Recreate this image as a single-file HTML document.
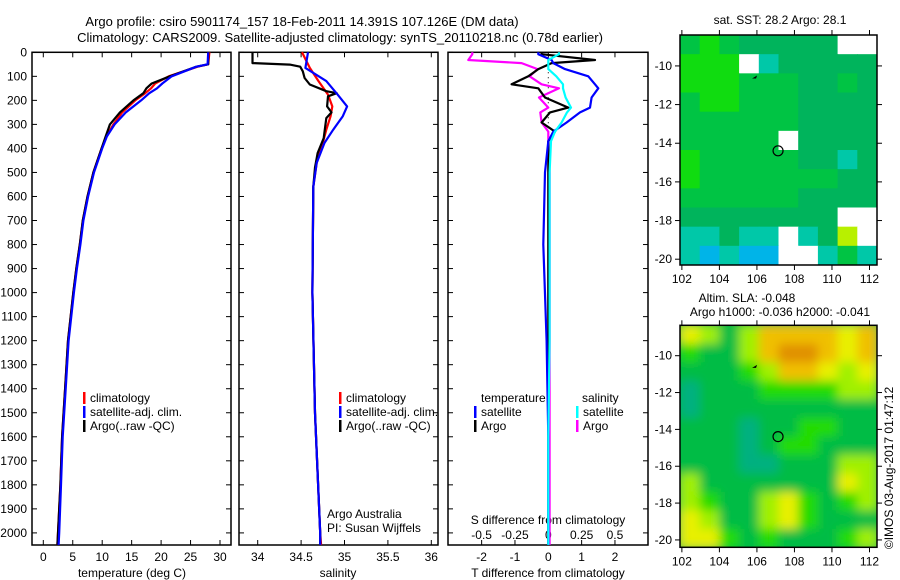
<!DOCTYPE html>
<html><head><meta charset="utf-8">
<style>
html,body{margin:0;padding:0;background:#fff;}
svg{display:block;font-family:"Liberation Sans",sans-serif;}
text{font-size:12px;fill:#000;}
</style></head>
<body>
<svg id="c" width="900" height="580" viewBox="0 0 900 580" xmlns="http://www.w3.org/2000/svg">
<text x="302" y="26" text-anchor="middle" style="font-size:13px">Argo profile: csiro 5901174_157 18-Feb-2011 14.391S 107.126E (DM data)</text>
<text x="340" y="42" text-anchor="middle" style="font-size:13px">Climatology: CARS2009. Satellite-adjusted climatology: synTS_20110218.nc (0.78d earlier)</text>
<text x="780" y="24" text-anchor="middle">sat. SST: 28.2 Argo: 28.1</text>
<text x="747" y="302" text-anchor="middle">Altim. SLA: -0.048</text>
<text x="780" y="316" text-anchor="middle">Argo h1000: -0.036 h2000: -0.041</text>
<text transform="translate(893,468) rotate(-90)" text-anchor="middle">©IMOS 03-Aug-2017 01:47:12</text>
</svg>
<script>
// ---- data ----
const tDepth = [0,50,60,100,130,150,170,200,250,300,350,400,500,600,700,800,900,1000,1200,1400,1600,1800,2000,2050];
const tArgo  = [28.0,28.0,26.0,21.5,18.4,17.5,17.0,15.3,13.0,11.3,10.6,9.9,8.5,7.5,6.7,6.2,5.6,5.1,4.2,3.7,3.2,2.9,2.5,2.4];
const tClim  = [28.2,28.0,26.2,21.3,19.0,18.3,17.3,15.6,13.4,11.9,10.7,9.9,8.5,7.5,6.7,6.2,5.6,5.1,4.2,3.7,3.2,2.9,2.5,2.4];
const tSat   = [28.0,27.9,26.0,21.8,20.2,19.3,18.0,16.6,14.0,12.1,10.8,10.0,8.6,7.6,6.8,6.3,5.7,5.2,4.3,3.8,3.3,3.0,2.7,2.6];

const sDepthArgo = [0,45,51,60,79,107,134,162,170,183,225,250,274,357,420,480,560,1000,1500,2000,2050];
const sArgo      = [33.94,33.94,34.37,34.49,34.52,34.54,34.60,34.79,34.91,34.81,34.80,34.85,34.79,34.76,34.69,34.66,34.64,34.63,34.66,34.72,34.72];
const sDepth = [0,65,120,176,225,266,322,377,460,560,1000,1500,2000,2050];
const sClim  = [34.51,34.60,34.70,34.81,34.86,34.84,34.79,34.75,34.68,34.64,34.63,34.66,34.72,34.73];
const sSat   = [34.58,34.55,34.79,34.92,35.03,34.98,34.87,34.77,34.68,34.64,34.63,34.66,34.72,34.72];

const dDepth   = [0,8,32,45,70,100,133,150,188,230,250,292,330,370,500,800,1200,1600,2050];
const dTArgo   = [-0.2,-0.2,1.4,0.1,-0.3,-0.6,-1.1,-0.3,-0.1,0.6,0.05,-0.2,0.2,0.0,0.0,0.0,0.0,0.0,0.0];
const dTSat    = [-0.3,-0.3,0.1,0.15,0.5,1.2,1.4,1.5,1.3,1.25,0.95,0.55,0.15,0.0,-0.1,-0.15,-0.05,0.0,0.0];
const dSSat    = [0.08,0.08,0.0,0.0,0.0,0.06,0.11,0.11,0.13,0.17,0.14,0.10,0.05,0.02,0.01,0.01,0.01,0.0,0.0];
const dSArgo   = [-0.57,-0.57,-0.6,-0.2,-0.08,-0.14,-0.05,0.08,-0.07,0.0,-0.06,-0.05,0.0,0.0,0.01,0.01,0.01,0.01,0.01];

const tTicks = [0,5,10,15,20,25,30];
const sTicks = [34,34.5,35,35.5,36];
const dTTicks = [-2,-1,0,1,2];
const dSTicks = ['-0.5','-0.25','0','0.25','0.5'];
const depthTicks = [0,100,200,300,400,500,600,700,800,900,1000,1100,1200,1300,1400,1500,1600,1700,1800,1900,2000];
const lonTicks = [102,104,106,108,110,112];
const latTicks = [-10,-12,-14,-16,-18,-20];

const sstPal = ['#00b4e8','#00c8a8','#00b45c','#00c444','#10dc10','#b8f000'];
const sstGrid = [
[3,4,3,2,2,2,2,2,-1,-1],
[4,4,4,-1,1,2,2,2,2,2],
[4,4,4,3,3,3,2,2,3,2],
[3,4,4,3,3,3,2,2,2,2],
[3,3,3,3,3,3,2,2,2,2],
[3,3,3,3,3,-1,2,2,2,2],
[4,3,3,3,3,3,2,2,1,2],
[4,3,3,3,3,3,3,3,2,2],
[3,3,3,3,3,3,2,2,2,2],
[2,2,2,2,2,2,2,2,-1,-1],
[1,1,2,1,1,-1,1,2,5,-1],
[1,0,1,0,0,-1,-1,1,3,1]];
const slaPal = ['#00b080','#00bc44','#20dc00','#a0f000','#e8f000','#f0c000','#e09000'];
const slaGrid = [
[4,3,1,3,5,5,5,5,4,5],
[2,1,1,3,5,6,6,5,4,5],
[1,1,1,2,3,5,5,4,3,4],
[0,1,1,1,2,2,2,2,3,3],
[0,1,1,1,1,1,1,1,1,1],
[1,1,1,0,1,1,2,2,1,1],
[1,1,1,0,1,2,2,1,1,1],
[1,1,1,0,0,1,1,1,3,3],
[3,1,1,1,1,1,1,1,4,3],
[3,2,1,1,3,4,2,1,2,3],
[4,3,1,1,3,4,2,1,1,1],
[4,4,2,1,2,1,1,1,2,3]];
const floatLon = 107.126, floatLat = -14.391;

// ---- helpers ----
const svg = document.getElementById('c');
const NS = 'http://www.w3.org/2000/svg';
function mk(tag, attrs, parent){const e=document.createElementNS(NS,tag);for(const k in attrs)e.setAttribute(k,attrs[k]);(parent||svg).appendChild(e);return e;}
function txt(x,y,s,anchor,parent){const t=mk('text',{x:x,y:y,'text-anchor':anchor||'start'},parent);t.textContent=s;return t;}

const PT=52.3, PB=545;
const yD = d => PT + d*0.2403;
const xT = v => 43.3 + v*5.89;
const xS = v => 257.7 + (v-34)*86.8;
const xDT = v => 548.3 + v*33.33;
const xDS = v => 548.3 + v*133.3;

function line(xs, ds, fx, color, name, parent){
  const pts = xs.map((v,i)=>fx(v).toFixed(1)+','+yD(ds[i]).toFixed(1)).join(' ');
  const p = mk('polyline',{points:pts,fill:'none',stroke:color,'stroke-width':2.2,'stroke-linejoin':'round'},parent);
  
  
}
function frame(x0,x1,name){
  const g = mk('g',{});
  
  
  mk('rect',{x:x0,y:PT,width:x1-x0,height:PB-PT,fill:'none',stroke:'#000','stroke-width':1.5},g);
  depthTicks.forEach(d=>{
    mk('line',{x1:x0,x2:x0+5,y1:yD(d),y2:yD(d),stroke:'#000'},g);
    mk('line',{x1:x1-5,x2:x1,y1:yD(d),y2:yD(d),stroke:'#000'},g);
  });
  return g;
}
function legend(x,y,color,label,parent){
  if(color) mk('rect',{x:x,y:y-10,width:2.5,height:12,fill:color},parent);
  const t = txt(x+7,y,label,'start',parent);
  
  
}

// ---- panel 1 temperature ----
const g1 = frame(32,231,'temperature-panel');
depthTicks.forEach(d=>{const t=txt(27,yD(d)+4,String(d),'end',g1);
  
  });
tTicks.forEach(v=>{
  mk('line',{x1:xT(v),x2:xT(v),y1:PB,y2:PB-5,stroke:'#000'},g1);
  mk('line',{x1:xT(v),x2:xT(v),y1:PT,y2:PT+5,stroke:'#000'},g1);
  txt(xT(v),561,String(v),'middle',g1);
});
txt(132,577,'temperature (deg C)','middle',g1);
line(tClim,tDepth,xT,'#ff0000','temp-climatology-line',g1);
line(tArgo,tDepth,xT,'#000000','temp-argo-line',g1);
line(tSat,tDepth,xT,'#0000ff','temp-satellite-line',g1);
legend(83,402,'#ff0000','climatology',g1);
legend(83,416,'#0000ff','satellite-adj. clim.',g1);
legend(83,430,'#000000','Argo(..raw -QC)',g1);

// ---- panel 2 salinity ----
const g2 = frame(239,438,'salinity-panel');
sTicks.forEach(v=>{
  mk('line',{x1:xS(v),x2:xS(v),y1:PB,y2:PB-5,stroke:'#000'},g2);
  mk('line',{x1:xS(v),x2:xS(v),y1:PT,y2:PT+5,stroke:'#000'},g2);
  txt(xS(v),561,String(v),'middle',g2);
});
txt(338,577,'salinity','middle',g2);
line(sClim,sDepth,xS,'#ff0000','sal-climatology-line',g2);
line(sArgo,sDepthArgo,xS,'#000000','sal-argo-line',g2);
line(sSat,sDepth,xS,'#0000ff','sal-satellite-line',g2);
legend(339,402,'#ff0000','climatology',g2);
legend(339,416,'#0000ff','satellite-adj. clim.',g2);
legend(339,430,'#000000','Argo(..raw -QC)',g2);
txt(327,518,'Argo Australia','start',g2);
txt(327,532,'PI: Susan Wijffels','start',g2);

// ---- panel 3 differences ----
const g3 = frame(448,648,'difference-panel');
mk('line',{x1:548.3,x2:548.3,y1:PT,y2:PB,stroke:'#000','stroke-dasharray':'1,4'},g3);
dTTicks.forEach((v,i)=>{
  mk('line',{x1:xDT(v),x2:xDT(v),y1:PB,y2:PB-5,stroke:'#000'},g3);
  mk('line',{x1:xDT(v),x2:xDT(v),y1:PT,y2:PT+5,stroke:'#000'},g3);
  txt(xDT(v),561,String(v),'middle',g3);
  txt(xDS(parseFloat(dSTicks[i])),539,dSTicks[i],'middle',g3);
});
txt(548,524,'S difference from climatology','middle',g3);
txt(548,577,'T difference from climatology','middle',g3);
line(dSArgo,dDepth,xDS,'#ff00ff','sdiff-argo-line',g3);
line(dTArgo,dDepth,xDT,'#000000','tdiff-argo-line',g3);
line(dTSat,dDepth,xDT,'#0000ff','tdiff-satellite-line',g3);
line(dSSat,dDepth,xDS,'#00ffff','sdiff-satellite-line',g3);
legend(474,402,null,'temperature',g3);
legend(575,402,null,'salinity',g3);
legend(474,416,'#0000ff','satellite',g3);
legend(474,430,'#000000','Argo',g3);
legend(576,416,'#00ffff','satellite',g3);
legend(576,430,'#ff00ff','Argo',g3);

// ---- maps ----
const defs = mk('defs',{});
const flt = mk('filter',{id:'blur',x:'-5%',y:'-5%',width:'110%',height:'110%'},defs);
mk('feGaussianBlur',{stdDeviation:5},flt);
function map(top,bot,latTop,latBot,grid,pal,name,blur){
  const L=680,R=877, lonL=101.9, lonR=112.4;
  const fx = lon => L + (lon-lonL)/(lonR-lonL)*(R-L);
  const fy = lat => top + (latTop-lat)/(latTop-latBot)*(bot-top);
  const g = mk('g',{});
  
  
  const cp = mk('clipPath',{id:name+'-clip'},defs);
  mk('rect',{x:L,y:top,width:R-L,height:bot-top},cp);
  const cells = mk('g',{'clip-path':'url(#'+name+'-clip)'},g);
  const inner = mk('g',blur?{filter:'url(#blur)'}:{},cells);
  const rows=grid.length, cols=grid[0].length;
  const cw=(R-L)/cols, ch=(bot-top)/rows;
  if(blur) mk('rect',{x:L-20,y:top-20,width:R-L+40,height:bot-top+40,fill:pal[1]},inner);
  grid.forEach((row,r)=>row.forEach((v,c)=>{
    const cell = mk('rect',{x:L+c*cw,y:top+r*ch,width:cw+0.6,height:ch+0.6,fill:v<0?'#ffffff':pal[v]},inner);
    
    
  }));
  mk('rect',{x:L,y:top,width:R-L,height:bot-top,fill:'none',stroke:'#000','stroke-width':1.5},g);
  lonTicks.forEach(v=>{
    mk('line',{x1:fx(v),x2:fx(v),y1:top,y2:top-5,stroke:'#000'},g);
    mk('line',{x1:fx(v),x2:fx(v),y1:bot,y2:bot+5,stroke:'#000'},g);
    txt(fx(v),bot+18,String(v),'middle',g);
  });
  latTicks.forEach(v=>{
    mk('line',{x1:L,x2:L-5,y1:fy(v),y2:fy(v),stroke:'#000'},g);
    mk('line',{x1:R,x2:R+5,y1:fy(v),y2:fy(v),stroke:'#000'},g);
    txt(L-8,fy(v)+4,String(v),'end',g);
  });
  const c = mk('circle',{cx:fx(floatLon),cy:fy(floatLat),r:5,fill:'none',stroke:'#000','stroke-width':1.2},g);
  
  
  mk('path',{d:`M${fx(105.9)-3},${fy(-10.55)+2} l5,-3 l-1,3 z`,fill:'#000'},g);
}
map(35,265,-8.4,-20.3,sstGrid,sstPal,'sst-map',false);
map(325.3,547.3,-8.35,-20.4,slaGrid,slaPal,'sla-map',true);
</script>
</body></html>
